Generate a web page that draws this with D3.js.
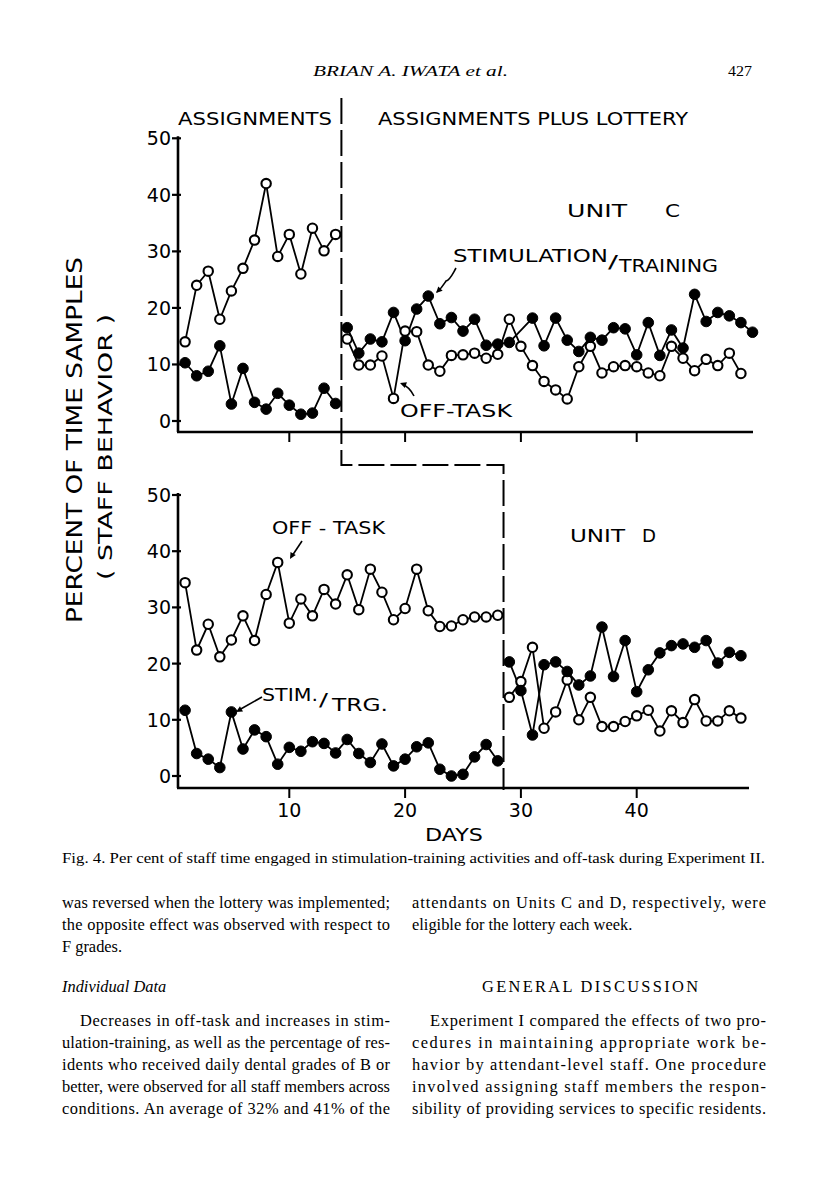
<!DOCTYPE html>
<html><head><meta charset="utf-8">
<script src="https://cdn.jsdelivr.net/npm/d3@7"></script>
<style>body{margin:0;background:#fff}svg{display:block}</style>
</head><body>
<script>
// ---------- DATA ----------
const daysBaseC = d3.range(1, 15);            // Unit C, Assignments (days 1-14)
const stimBaseC = [10.3, 8.0, 8.8, 13.3, 3.0, 9.3, 3.3, 2.1, 4.9, 2.8, 1.2, 1.4, 5.8, 3.1];
const offBaseC  = [14, 24, 26.5, 18, 23, 27, 32, 42, 29.1, 33, 26, 34.1, 30.1, 33];

const daysLotC = d3.range(15, 51);            // Unit C, Assignments plus lottery (days 15-50)
const stimLotC = [16.5, 12.0, 14.5, 14.0, 19.2, 14.2, 19.8, 22.1, 17.2, 18.3, 15.9, 18.0, 13.4, 13.6, 13.9, null,
                  18.2, 13.3, 18.2, 14.3, 12.3, 14.8, 14.3, 16.5, 16.3, 11.7, 17.4, 11.6, 16.1, 12.9, 22.4, 17.6,
                  19.2, 18.6, 17.4, 15.7];
const offLotC  = [14.5, 9.9, 9.9, 11.5, 4.0, 15.9, 15.8, 9.9, 8.8, 11.6, 11.7, 12.0, 11.1, 11.8, 18.0, 13.2,
                  9.8, 7.0, 5.5, 3.9, 9.6, 13.2, 8.5, 9.6, 9.8, 9.6, 8.5, 8.0, 13.2, 11.1, 8.9, 10.9,
                  9.8, 12.0, 8.4, null];

const daysBaseD = d3.range(1, 29);            // Unit D, Assignments (days 1-28)
const stimBaseD = [11.7, 4.0, 3.0, 1.5, 11.4, 4.8, 8.2, 7.0, 2.1, 5.1, 4.4, 6.1, 5.8, 4.1, 6.5, 4.0, 2.4, 5.7,
                   1.8, 3.0, 5.2, 5.9, 1.2, 0.0, 0.3, 3.4, 5.6, 2.7];
const offBaseD  = [34.4, 22.4, 27.0, 21.2, 24.2, 28.5, 24.1, 32.3, 38.0, 27.2, 31.5, 28.5, 33.2, 30.6, 35.8, 29.6,
                   36.8, 32.7, 27.8, 29.8, 36.8, 29.4, 26.6, 26.7, 27.8, 28.3, 28.3, 28.6];

const daysLotD = d3.range(29, 50);            // Unit D, Assignments plus lottery (days 29-49)
const stimLotD = [20.3, 15.2, 7.3, 19.8, 20.3, 18.6, 16.2, 17.8, 26.5, 17.7, 24.1, 15.0, 18.9, 21.9, 23.2, 23.5,
                  22.9, 24.1, 20.1, 22.0, 21.4];
const offLotD  = [14.0, 16.8, 22.9, 8.5, 11.4, 17.1, 10.0, 14.0, 8.8, 8.8, 9.7, 10.7, 11.7, 8.0, 11.6, 9.5,
                  13.6, 9.8, 9.8, 11.6, 10.3];

const yTicks = [0, 10, 20, 30, 40, 50];
const xTicks = [10, 20, 30, 40];
const phaseC = 14.5, phaseD = 28.5;

// ---------- SETUP ----------
const W = 816, H = 1195;
const svg = d3.select("body").append("svg").attr("width", W).attr("height", H)
  .style("background", "#fff");
const chartFont = "'DejaVu Sans', sans-serif";
const serif = "'Liberation Serif', 'Times New Roman', serif";

const x = d3.scaleLinear().domain([10, 40]).range([289.3, 636.7]);
const yC = d3.scaleLinear().domain([0, 50]).range([421, 138.3]);
const yD = d3.scaleLinear().domain([0, 50]).range([776, 495]);
const axisX0 = 178;

function zip(days, vals) { return days.map((d, i) => ({d, v: vals[i]})).filter(p => p.v != null); }

function series(g, y, days, vals) {
  g.append("path").datum(zip(days, vals))
    .attr("fill", "none").attr("stroke", "#000").attr("stroke-width", 1.8)
    .attr("d", d3.line().x(p => x(p.d)).y(p => y(p.v)));
}
function markers(g, y, days, vals, filled) {
  g.selectAll(null).data(zip(days, vals)).join("circle")
    .attr("cx", p => x(p.d)).attr("cy", p => y(p.v))
    .attr("r", filled ? 5.3 : 4.7)
    .attr("fill", filled ? "#000" : "#fff")
    .attr("stroke", "#000").attr("stroke-width", filled ? 1 : 2.1);
}

function panel(y, axisY, xEnd, sets) {
  const g = svg.append("g");
  g.append("line").attr("x1", axisX0).attr("x2", axisX0).attr("y1", y(50) - 2).attr("y2", axisY)
    .attr("stroke", "#000").attr("stroke-width", 2.6);
  g.selectAll(null).data(yTicks).join("line")
    .attr("x1", axisX0 - 6).attr("x2", axisX0 + 3)
    .attr("y1", d => y(d)).attr("y2", d => y(d))
    .attr("stroke", "#000").attr("stroke-width", 2.2);
  g.selectAll(null).data(yTicks).join("text")
    .attr("x", 171).attr("y", d => y(d) + 7)
    .attr("text-anchor", "end").attr("font-family", chartFont).attr("font-size", 19)
    .text(d => d);
  g.append("line").attr("x1", axisX0 - 1).attr("x2", xEnd).attr("y1", axisY).attr("y2", axisY)
    .attr("stroke", "#000").attr("stroke-width", 2.6);
  g.selectAll(null).data(xTicks).join("line")
    .attr("x1", d => x(d)).attr("x2", d => x(d))
    .attr("y1", axisY).attr("y2", axisY + 10)
    .attr("stroke", "#000").attr("stroke-width", 2);
  sets.forEach(s => series(g, y, s[0], s[1]));
  sets.forEach(s => markers(g, y, s[0], s[1], s[2]));
  return g;
}

panel(yC, 432, 753, [
  [daysBaseC, offBaseC, false], [daysBaseC, stimBaseC, true],
  [daysLotC, offLotC, false], [daysLotC, stimLotC, true]
]);
const gD = panel(yD, 788, 749, [
  [daysBaseD, offBaseD, false], [daysBaseD, stimBaseD, true],
  [daysLotD, offLotD, false], [daysLotD, stimLotD, true]
]);
gD.selectAll(null).data(xTicks).join("text")
  .attr("x", d => x(d)).attr("y", 817).attr("text-anchor", "middle")
  .attr("font-family", chartFont).attr("font-size", 19).text(d => d);

// phase change lines
const xc = x(phaseC), xd = x(phaseD);
svg.append("path")
  .attr("d", `M${xc},98 V465 H${xd} V790`)
  .attr("fill", "none").attr("stroke", "#000").attr("stroke-width", 2).attr("stroke-dasharray", "26,6");

// ---------- LABELS ----------
function lab(t, x0, yb, w, fs, opts = {}) {
  const e = svg.append("text").attr("x", x0).attr("y", yb)
    .attr("font-family", opts.font || chartFont).attr("font-size", fs).text(t);
  if (w) e.attr("textLength", w).attr("lengthAdjust", "spacingAndGlyphs");
  if (opts.style) e.attr("font-style", opts.style);
  return e;
}
lab("ASSIGNMENTS", 178, 125, 154, 18);
lab("ASSIGNMENTS  PLUS  LOTTERY", 378, 125, 310, 18);
lab("UNIT", 567, 217, 60, 18);
lab("C", 665, 217, 15, 18);
lab("STIMULATION", 453, 262, 155, 17);
lab("/", 608, 268, 10, 17);
lab("TRAINING", 619, 272, 99, 17);
lab("OFF-TASK", 400, 417, 112, 17);
lab("OFF - TASK", 272, 534, 113, 17);
lab("UNIT", 570, 542, 55, 18);
lab("D", 642, 542, 14, 18);
lab("STIM.", 262, 701, 56, 17);
lab("/", 319, 706, 9, 17);
lab("TRG.", 332, 711, 56, 17);
lab("DAYS", 425, 841, 58, 18);

svg.append("text").attr("transform", "translate(82,440) rotate(-90)")
  .attr("text-anchor", "middle").attr("font-family", chartFont).attr("font-size", 22)
  .attr("textLength", 366).attr("lengthAdjust", "spacingAndGlyphs")
  .text("PERCENT OF TIME SAMPLES");
svg.append("text").attr("transform", "translate(112,447) rotate(-90)")
  .attr("text-anchor", "middle").attr("font-family", chartFont).attr("font-size", 19)
  .attr("textLength", 266).attr("lengthAdjust", "spacingAndGlyphs")
  .text("( STAFF BEHAVIOR )");

// arrows
function arrow(d, tip, ang) {
  svg.append("path").attr("d", d).attr("stroke", "#000").attr("stroke-width", 1.6).attr("fill", "none");
  const a = ang * Math.PI / 180, L = 7, s = 0.45;
  const p1 = [tip[0] - L * Math.cos(a - s), tip[1] - L * Math.sin(a - s)];
  const p2 = [tip[0] - L * Math.cos(a + s), tip[1] - L * Math.sin(a + s)];
  svg.append("path").attr("d", `M${tip}L${p1}L${p2}Z`).attr("fill", "#000");
}
arrow("M456,268 C452,275 450,280 446,281 C444,284 442,288 437,292", [436, 293], 135);
arrow("M414,396 C411,390 407,386 402,384", [400, 383], 200);
arrow("M302,541 L292,556", [290, 559], 120);
arrow("M262,697 L239,710", [236, 712], 150);

// ---------- PAGE TEXT ----------
lab("BRIAN A. IWATA et al.", 313, 76, 195, 15.5, {font: serif, style: "italic"});
lab("427", 728, 76, 24, 15.5, {font: serif});
lab("Fig. 4.  Per cent of staff time engaged in stimulation-training activities and off-task during Experiment II.",
    62, 863, 703, 14.6, {font: serif});

function body(t, x0, yb, w, opts = {}) {
  const e = svg.append("text").attr("x", x0).attr("y", yb)
    .attr("font-family", serif).attr("font-size", 16.4).text(t);
  if (w) e.attr("textLength", w).attr("lengthAdjust", "spacing");
  if (opts.style) e.attr("font-style", opts.style);
}
const L0 = 62, LW = 328, R0 = 412, RW = 354;
body("was reversed when the lottery was implemented;", L0, 908, LW);
body("the opposite effect was observed with respect to", L0, 930, LW);
body("F grades.", L0, 952);
body("Individual Data", L0, 992, null, {style: "italic"});
body("Decreases in off-task and increases in stim-", 80, 1026, LW - 18);
body("ulation-training, as well as the percentage of res-", L0, 1048, LW);
body("idents who received daily dental grades of B or", L0, 1070, LW);
body("better, were observed for all staff members across", L0, 1092, LW);
body("conditions. An average of 32% and 41% of the", L0, 1114, LW);

body("attendants on Units C and D, respectively, were", R0, 908, RW);
body("eligible for the lottery each week.", R0, 930);
body("GENERAL DISCUSSION", 482, 992, 216);
body("Experiment I compared the effects of two pro-", 430, 1026, RW - 18);
body("cedures in maintaining appropriate work be-", R0, 1048, RW);
body("havior by attendant-level staff. One procedure", R0, 1070, RW);
body("involved assigning staff members the respon-", R0, 1092, RW);
body("sibility of providing services to specific residents.", R0, 1114, RW);
</script>
</body></html>
